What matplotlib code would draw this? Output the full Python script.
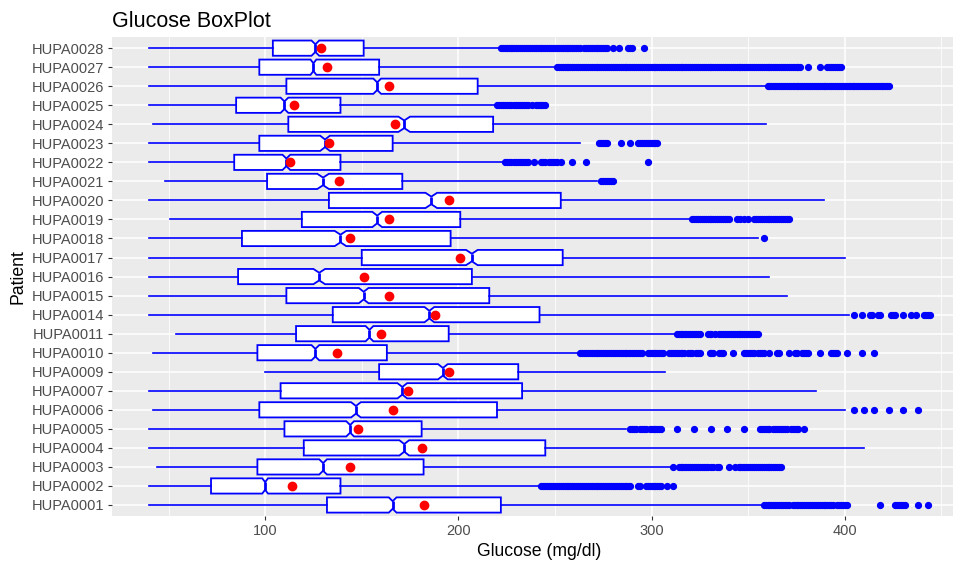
import numpy as np
import matplotlib
matplotlib.use("Agg")
import matplotlib.pyplot as plt
from matplotlib.ticker import FixedLocator

plt.rcParams["font.family"] = ["Liberation Sans", "DejaVu Sans"]

# rows from bottom (HUPA0001) to top (HUPA0028)
patients = ["HUPA0001", "HUPA0002", "HUPA0003", "HUPA0004", "HUPA0005", "HUPA0006",
            "HUPA0007", "HUPA0009", "HUPA0010", "HUPA0011", "HUPA0014", "HUPA0015",
            "HUPA0016", "HUPA0017", "HUPA0018", "HUPA0019", "HUPA0020", "HUPA0021",
            "HUPA0022", "HUPA0023", "HUPA0024", "HUPA0025", "HUPA0026", "HUPA0027",
            "HUPA0028"]
whisker_lo = [40, 40, 44, 40, 40, 42, 40, 100, 42, 54, 40, 40, 40, 40, 40, 51, 40, 48,
              40, 40, 42, 40, 40, 40, 40]
q1 = [132, 72, 96, 120, 110, 97, 108, 159, 96, 116, 135, 111, 86, 150, 88, 119, 133, 101,
      84, 97, 112, 85, 111, 97, 104]
medians = [166, 100, 130, 172, 144, 147, 171, 192, 126, 154, 185, 151, 128, 207, 139, 158,
           186, 130, 111, 131, 172, 110, 158, 125, 126]
q3 = [222, 139, 182, 245, 181, 220, 233, 231, 163, 195, 242, 216, 207, 254, 196, 201, 253,
      171, 139, 166, 218, 139, 210, 159, 151]
whisker_hi = [357, 242, 310, 410, 287, 400, 385, 307, 262, 313, 402, 370, 361, 400, 355, 321,
              389, 272, 223, 263, 359, 220, 360, 250, 222]
means = [182, 114, 144, 181, 148, 166, 174, 195, 137, 160, 188, 164, 151, 201, 144, 164, 195,
         138, 113, 133, 167, 115, 164, 132, 129]
notch_half = [2, 1.5, 2, 2.5, 2, 2.5, 2.5, 2.5, 2, 2, 2.5, 2.5, 3, 3, 3, 2.5, 3, 3, 2, 2.5,
              3, 2, 2, 1.5, 2]
# outliers, as (from, to) runs of integer readings; single readings have from == to
outlier_runs = [
    [(358, 371), (373, 394), (396, 401), (418, 418), (426, 431), (438, 438), (443, 443)],
    [(243, 289), (293, 294), (297, 305), (308, 308), (311, 311)],
    [(311, 311), (314, 329), (331, 332), (334, 335), (340, 340), (343, 343), (345, 367)],
    [],
    [(289, 292), (294, 297), (299, 305), (313, 313), (322, 322), (331, 331), (339, 339),
     (348, 348), (356, 361), (363, 370), (372, 376), (379, 379)],
    [(405, 405), (410, 410), (415, 415), (423, 423), (430, 430), (438, 438)],
    [],
    [],
    [(263, 295), (298, 306), (309, 317), (319, 321), (323, 325), (330, 332), (335, 337),
     (342, 342), (348, 353), (355, 358), (361, 361), (365, 366), (371, 371), (374, 375),
     (378, 381), (387, 387), (393, 396), (401, 401), (409, 409), (415, 415)],
    [(313, 325), (329, 331), (333, 333), (335, 355)],
    [(405, 405), (409, 409), (413, 414), (417, 418), (424, 426), (430, 430), (434, 434),
     (437, 437), (441, 444)],
    [],
    [],
    [],
    [(358, 358)],
    [(321, 340), (344, 344), (346, 346), (348, 348), (350, 350), (353, 371)],
    [],
    [(274, 280)],
    [(224, 227), (229, 236), (239, 239), (243, 245), (247, 251), (253, 253), (259, 259),
     (266, 266), (298, 298)],
    [(273, 277), (284, 284), (289, 289), (293, 303)],
    [],
    [(220, 227), (229, 236), (238, 238), (240, 245)],
    [(360, 423)],
    [(251, 377), (381, 381), (387, 387), (391, 398)],
    [(222, 263), (265, 277), (280, 280), (283, 283), (288, 290), (296, 296)],
]

BLUE = "#0000FF"

stats = []
for i, name in enumerate(patients):
    runs = outlier_runs[i]
    fl = np.concatenate([np.arange(a, b + 1) for a, b in runs]) if runs else np.array([])
    stats.append({"label": name, "whislo": whisker_lo[i], "q1": q1[i], "med": medians[i],
                  "q3": q3[i], "whishi": whisker_hi[i], "mean": means[i],
                  "cilo": medians[i] - notch_half[i], "cihi": medians[i] + notch_half[i],
                  "fliers": fl})

pos = np.arange(1, len(patients) + 1)

fig = plt.figure(figsize=(9.58, 5.65), dpi=100)
ax = fig.add_axes([0.1166, 0.086, 0.8782, 0.849])
ax.set_facecolor("#EBEBEB")

ax.bxp(stats, positions=pos, widths=0.8, orientation="horizontal", shownotches=True,
       showcaps=False, patch_artist=True,
       boxprops=dict(facecolor="white", edgecolor=BLUE, linewidth=1.3),
       whiskerprops=dict(color=BLUE, linewidth=1.2),
       medianprops=dict(color=BLUE, linewidth=2.0),
       flierprops=dict(marker="o", markerfacecolor=BLUE, markeredgecolor=BLUE,
                       markersize=4.2, linestyle="none"),
       zorder=3)
ax.plot(means, pos, "o", color="red", markersize=6, zorder=5)

ax.set_xlim(20.6, 456)
ax.set_ylim(0.4, len(patients) + 0.6)
ax.set_xticks([100, 200, 300, 400])
ax.set_xticklabels(["100", "200", "300", "400"])
ax.xaxis.set_minor_locator(FixedLocator([50, 150, 250, 350, 450]))
ax.set_yticks(pos)
ax.set_yticklabels(patients)

ax.grid(which="major", color="white", linewidth=1.1, zorder=0)
ax.grid(which="minor", axis="x", color="white", linewidth=0.55, zorder=0)
ax.set_axisbelow(True)
for s in ax.spines.values():
    s.set_visible(False)
ax.tick_params(which="major", length=3, width=0.8, color="#333333",
               labelcolor="#4D4D4D", labelsize=10.5, pad=2.5)
ax.tick_params(which="minor", length=0)

ax.set_title("Glucose BoxPlot", loc="left", fontsize=15.5, pad=7)
ax.set_xlabel("Glucose (mg/dl)", fontsize=12.7, labelpad=4)
ax.xaxis.set_label_coords(0.508, -0.055)
ax.set_ylabel("Patient", fontsize=12.7, labelpad=4)

fig.savefig("out.png", dpi=100)
